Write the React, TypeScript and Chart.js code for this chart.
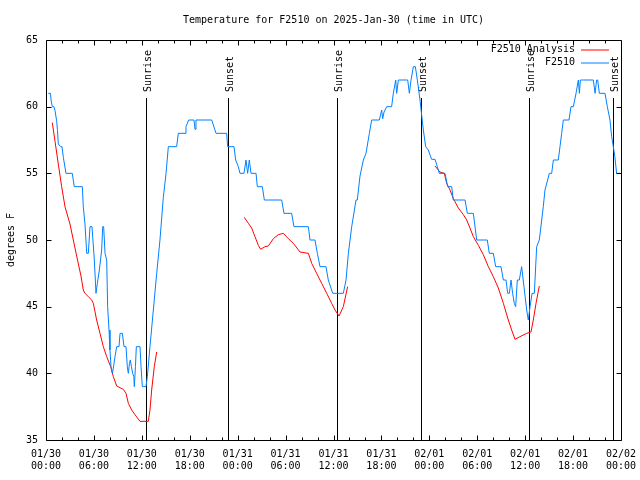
import React, { useEffect, useRef } from "react";
import { Chart, registerables } from "chart.js";

Chart.register(...registerables);

// ---- data (x = hours since 2025-01-30 00:00 UTC, y = degrees F) ----
const dayLabels = ["01/30", "01/31", "02/01", "02/02"];
const yTicks = [35, 40, 45, 50, 55, 60, 65];

const stationSeries: [number, number][] = [
  [0.29, 61], [0.56, 61], [0.63, 60.5], [0.79, 60], [1.0, 60], [1.13, 59.7], [1.34, 58.9], [1.44, 58.2],
  [1.54, 57.2], [1.84, 57], [2.0, 57], [2.17, 56.2], [2.5, 55], [3.29, 55], [3.54, 54], [4.55, 54],
  [4.67, 52.5], [4.88, 51.2], [5.1, 49], [5.3, 49], [5.51, 51], [5.76, 51], [6.05, 48.5], [6.26, 46],
  [6.43, 46.75], [6.68, 47.75], [6.97, 49.25], [7.1, 51], [7.22, 51], [7.39, 49], [7.6, 48.5], [7.72, 45],
  [7.89, 43.25], [8.01, 41.75], [8.14, 40.5], [8.31, 40], [8.43, 40.4], [8.64, 41.25], [8.85, 42], [9.14, 42],
  [9.27, 43], [9.56, 43], [9.77, 42], [10.02, 42], [10.18, 40.5], [10.31, 40], [10.45, 40.75], [10.56, 41],
  [10.7, 40.5], [10.85, 40], [11.0, 39.75], [11.06, 39], [11.2, 40.5], [11.31, 42], [11.77, 42], [11.9, 40.5],
  [12.06, 39], [12.52, 39], [12.69, 39.75], [13.02, 42], [13.44, 44.75], [13.86, 47.5], [14.27, 50], [14.69, 53.2],
  [15.03, 55], [15.32, 57], [16.36, 57], [16.57, 58], [17.41, 58], [17.53, 58.5], [17.86, 59], [18.53, 59],
  [18.66, 58.3], [18.78, 59], [20.75, 59], [21.29, 58], [22.62, 58], [22.75, 57], [23.54, 57], [23.75, 56],
  [24.08, 55.5], [24.29, 55], [24.79, 55], [25.04, 56], [25.25, 55], [25.46, 56], [25.67, 55], [26.3, 55],
  [26.46, 54], [27.09, 54], [27.34, 53], [27.84, 53], [29.51, 53], [29.8, 52], [30.76, 52], [31.05, 51],
  [32.85, 51], [33.06, 50], [33.68, 50], [33.98, 49], [34.31, 48], [35.06, 48], [35.35, 47], [35.9, 46],
  [37.23, 46], [37.57, 47], [37.86, 49], [38.28, 51], [38.82, 53], [38.98, 53], [39.32, 54.8], [39.74, 56],
  [40.07, 56.5], [40.49, 58], [40.78, 59], [41.74, 59], [42.03, 59.75], [42.16, 59.1], [42.33, 59.6], [42.66, 60],
  [43.28, 60], [43.49, 61], [43.79, 62], [43.91, 61], [44.12, 62], [45.29, 62], [45.5, 61], [45.71, 62],
  [46.0, 63], [46.25, 63], [46.5, 62], [46.83, 60.5], [47.25, 58.25], [47.54, 57], [47.87, 56.75], [48.29, 56.05],
  [48.71, 56.05], [49.0, 55.5], [49.25, 55], [49.96, 55], [50.3, 54], [50.8, 54], [51.0, 53], [51.63, 53],
  [52.47, 53], [52.76, 52], [53.51, 52], [53.93, 50], [55.26, 50], [55.51, 49], [56.01, 49], [56.31, 48],
  [56.97, 48], [57.27, 47], [57.6, 47], [57.81, 46], [58.02, 46], [58.23, 47], [58.43, 46], [58.64, 45.25],
  [58.81, 45], [59.02, 47], [59.27, 47], [59.56, 48], [59.85, 46.5], [60.19, 44.75], [60.39, 44], [60.61, 45],
  [60.86, 46], [61.15, 46], [61.44, 49.5], [61.77, 50], [62.07, 51.5], [62.27, 52.5], [62.48, 53.75], [63.03, 55],
  [63.32, 55], [63.53, 56], [64.15, 56], [64.36, 57], [64.57, 58], [64.78, 59], [65.49, 59], [65.74, 60],
  [66.03, 60], [66.37, 61], [66.66, 62], [66.79, 61], [66.91, 62], [67.29, 62], [68.54, 62], [68.75, 61],
  [68.95, 62], [69.08, 62], [69.29, 61], [70.0, 61], [70.29, 60], [70.62, 59], [70.83, 57.75], [71.04, 57],
  [71.23, 56.25], [71.45, 55], [71.87, 55],
];

const analysisDay1: [number, number][] = [
  [0.79, 58.8], [1.13, 57.4], [1.54, 55.7], [1.96, 54], [2.38, 52.5], [3.0, 51.2], [3.42, 50], [3.84, 48.8],
  [4.38, 47.3], [4.67, 46.25], [4.88, 46], [5.3, 45.75], [5.72, 45.5], [5.93, 45.25], [6.34, 44], [6.76, 43],
  [7.18, 42], [7.6, 41.25], [8.1, 40.5], [8.43, 39.75], [8.85, 39.05], [9.68, 38.8], [10.02, 38.5], [10.31, 37.75],
  [10.73, 37.25], [11.14, 36.9], [11.77, 36.4], [12.81, 36.4], [13.02, 37.25], [13.23, 38.75], [13.56, 40.5], [13.86, 41.6],
];
const analysisDay2: [number, number][] = [
  [24.83, 51.7], [25.34, 51.25], [25.75, 50.9], [26.17, 50.25], [26.59, 49.6], [26.88, 49.3], [27.42, 49.5], [27.84, 49.55],
  [28.47, 50.1], [29.09, 50.4], [29.72, 50.5], [30.34, 50.1], [30.97, 49.75], [31.81, 49.1], [32.85, 49], [33.27, 48.25],
  [33.89, 47.5], [34.52, 46.75], [35.15, 46], [35.77, 45.25], [36.19, 44.75], [36.69, 44.3], [37.23, 45], [37.77, 46.5],
];
const analysisDay3: [number, number][] = [
  [48.71, 55.55], [49.33, 55.1], [49.88, 55], [50.17, 54.25], [50.59, 53.75], [51.01, 53.1], [51.63, 52.4], [52.26, 51.9],
  [52.68, 51.5], [53.09, 50.9], [53.51, 50.25], [54.14, 49.6], [54.76, 48.9], [55.39, 48], [56.01, 47.25], [56.64, 46.4],
  [57.27, 45.25], [57.89, 44], [58.31, 43.25], [58.73, 42.55], [59.35, 42.75], [60.19, 43], [60.73, 43.1], [61.02, 44],
  [61.36, 45.25], [61.77, 46.55],
];

const sunHours = [12.52, 22.83, 36.48, 46.92, 60.52, 70.96];
const sunLabels = ["Sunrise", "Sunset", "Sunrise", "Sunset", "Sunrise", "Sunset"];

const seriesNames = ["F2510 Analysis", "F2510"];
const seriesColors = ["#ff0000", "#0080ff"];
const titleText = "Temperature for F2510 on 2025-Jan-30 (time in UTC)";
const yTitle = "degrees F";

const FONT = "'DejaVu Sans Mono', 'Liberation Mono', monospace";

const toPts = (arr: [number, number][]) => arr.map(([x, y]) => ({ x, y }));

const App: React.FC = () => {
  const ref = useRef<HTMLCanvasElement | null>(null);

  useEffect(() => {
    if (!ref.current) return;

    const analysisData = [
      ...toPts(analysisDay1),
      { x: 14.5, y: null as any },
      ...toPts(analysisDay2),
      { x: 40, y: null as any },
      ...toPts(analysisDay3),
    ];

    const overlay = {
      id: "gnuplotOverlay",
      beforeDatasetsDraw(chart: any) {
        const { ctx, chartArea, scales } = chart;
        const xs = scales.x;
        ctx.save();
        ctx.strokeStyle = "#000";
        ctx.lineWidth = 1;
        const lineTop = chartArea.bottom - 0.855 * (chartArea.bottom - chartArea.top);
        sunHours.forEach((h, i) => {
          const px = Math.round(xs.getPixelForValue(h)) + 0.5;
          ctx.beginPath();
          ctx.moveTo(px, lineTop);
          ctx.lineTo(px, chartArea.bottom);
          ctx.stroke();
          ctx.save();
          ctx.translate(px + 1.5, lineTop - 6);
          ctx.rotate(-Math.PI / 2);
          ctx.font = "10px " + FONT;
          ctx.fillStyle = "#000";
          ctx.textAlign = "left";
          ctx.textBaseline = "middle";
          ctx.fillText(sunLabels[i], 0, 0);
          ctx.restore();
        });
        ctx.restore();
      },
      afterDraw(chart: any) {
        const { ctx, chartArea, scales } = chart;
        const xs = scales.x;
        const ys = scales.y;
        const L = Math.round(chartArea.left) + 0.5;
        const R = Math.round(chartArea.right) + 0.5;
        const T = Math.round(chartArea.top) + 0.5;
        const B = Math.round(chartArea.bottom) + 0.5;
        ctx.save();
        ctx.strokeStyle = "#000";
        ctx.lineWidth = 1;
        ctx.beginPath();
        ctx.rect(L, T, R - L, B - T);
        ctx.stroke();
        // x ticks every 2 hours, major every 6
        ctx.beginPath();
        for (let h = 2; h < 72; h += 2) {
          const px = Math.round(xs.getPixelForValue(h)) + 0.5;
          const len = h % 6 === 0 ? 5 : 3;
          ctx.moveTo(px, B);
          ctx.lineTo(px, B - len);
          ctx.moveTo(px, T);
          ctx.lineTo(px, T + len);
        }
        yTicks.forEach((v) => {
          const py = Math.round(ys.getPixelForValue(v)) + 0.5;
          ctx.moveTo(L, py);
          ctx.lineTo(L + 5, py);
          ctx.moveTo(R, py);
          ctx.lineTo(R - 5, py);
        });
        ctx.stroke();
        // legend
        ctx.font = "10px " + FONT;
        ctx.fillStyle = "#000";
        ctx.textAlign = "right";
        ctx.textBaseline = "middle";
        seriesNames.forEach((name, i) => {
          const y = 49.5 + i * 13;
          ctx.fillText(name, 575, y);
          ctx.strokeStyle = seriesColors[i];
          ctx.beginPath();
          ctx.moveTo(581, y + 0.5);
          ctx.lineTo(609, y + 0.5);
          ctx.stroke();
        });
        ctx.restore();
      },
    };

    const chart = new Chart(ref.current, {
      type: "line",
      data: {
        datasets: [
          {
            label: seriesNames[0],
            data: analysisData as any,
            borderColor: seriesColors[0],
            backgroundColor: seriesColors[0],
            borderWidth: 1,
            pointRadius: 0,
            tension: 0,
            spanGaps: false,
            order: 2,
          },
          {
            label: seriesNames[1],
            data: toPts(stationSeries) as any,
            borderColor: seriesColors[1],
            backgroundColor: seriesColors[1],
            borderWidth: 1,
            pointRadius: 0,
            tension: 0,
            order: 1,
          },
        ],
      },
      options: {
        responsive: false,
        animation: false,
        layout: { padding: { left: 0, right: 19, top: 0, bottom: 0 } },
        plugins: {
          legend: { display: false },
          tooltip: { enabled: false },
          title: {
            display: true,
            text: titleText,
            fullSize: false,
            color: "#000",
            font: { family: FONT, size: 10, weight: "normal" },
            padding: { top: 14, bottom: 14 },
          },
        },
        scales: {
          x: {
            type: "linear",
            min: 0,
            max: 72,
            afterFit: (s: any) => {
              s.height = 40;
              s.paddingLeft = 0;
              s.paddingRight = 0;
            },
            grid: { display: false, drawTicks: false },
            border: { display: false },
            ticks: {
              stepSize: 6,
              autoSkip: false,
              maxRotation: 0,
              padding: 8,
              color: "#000",
              font: { family: FONT, size: 10 },
              callback: (v: any) => {
                const h = Number(v);
                if (h % 6 !== 0) return "";
                const day = dayLabels[Math.floor(h / 24)];
                const hh = h % 24;
                return [day, `${String(hh).padStart(2, "0")}:00`];
              },
            },
          },
          y: {
            type: "linear",
            min: 35,
            max: 65,
            afterFit: (s: any) => {
              s.width = 46;
              s.paddingTop = 0;
              s.paddingBottom = 0;
            },
            grid: { display: false, drawTicks: false },
            border: { display: false },
            ticks: {
              stepSize: 5,
              padding: 8,
              color: "#000",
              font: { family: FONT, size: 10 },
            },
            title: {
              display: true,
              text: yTitle,
              color: "#000",
              font: { family: FONT, size: 10 },
              padding: { top: 5, bottom: 0 },
            },
          },
        },
      },
      plugins: [overlay],
    });

    return () => chart.destroy();
  }, []);

  return (
    <div style={{ position: "fixed", left: 0, top: 0, width: 640, height: 480, background: "#fff" }}>
      <canvas ref={ref} width={640} height={480} />
    </div>
  );
};

export default App;
